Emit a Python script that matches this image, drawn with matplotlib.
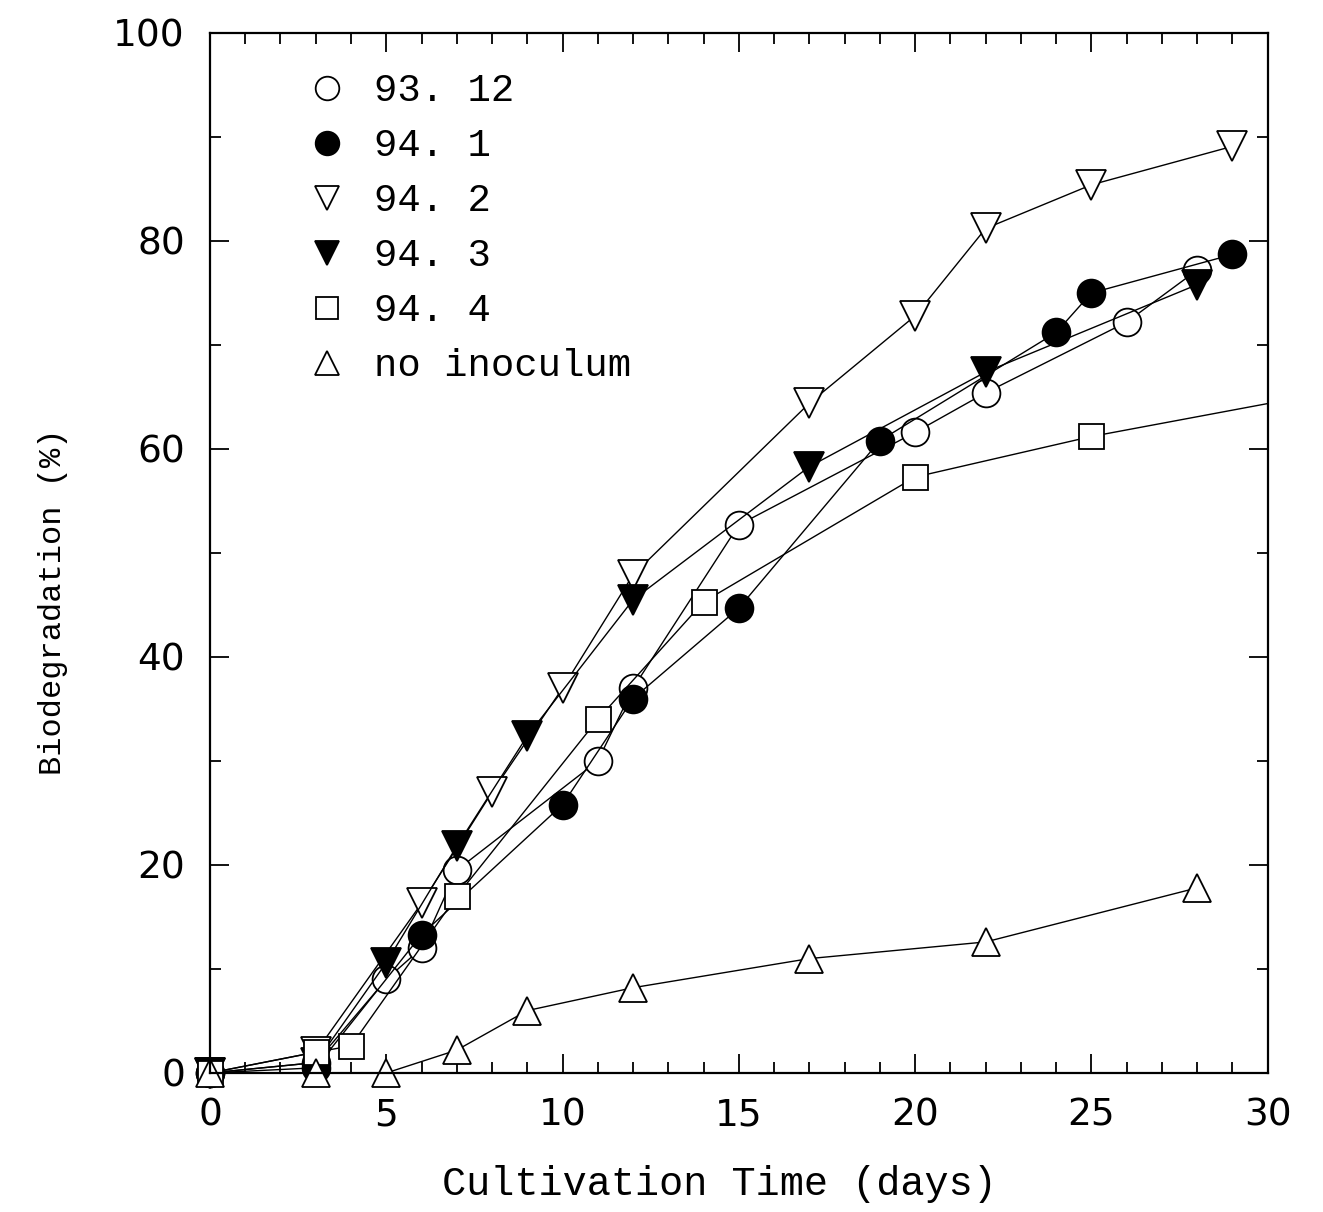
import numpy as np
import matplotlib
matplotlib.use('Agg')
import matplotlib.pyplot as plt
from matplotlib.ticker import MultipleLocator

# data
x_9312 = [0, 3, 5, 6, 7, 11, 12, 15, 20, 22, 26, 28]
y_9312 = [0, 1, 9, 12, 19.5, 30, 37, 52.7, 61.6, 65.4, 72.2, 77.2]

x_941 = [0, 3, 6, 10, 12, 15, 19, 24, 25, 29]
y_941 = [0, 0.5, 13.3, 25.8, 36, 44.7, 60.8, 71.2, 75, 78.7]

x_942 = [0, 3, 6, 8, 10, 12, 17, 20, 22, 25, 29]
y_942 = [0, 2, 16.3, 27, 37, 47.9, 64.4, 72.8, 81.2, 85.4, 89.1]

x_943 = [0, 3, 5, 7, 9, 12, 17, 22, 28]
y_943 = [0, 1, 10.6, 21.8, 32.4, 45.5, 58.3, 67.4, 75.8]

x_944 = [0, 3, 4, 7, 11, 14, 20, 25, 31]
y_944 = [0, 2, 2.6, 17, 34, 45.3, 57.3, 61.2, 65.0]

x_noin = [0, 3, 5, 7, 9, 12, 17, 22, 28]
y_noin = [0, 0, 0, 2.2, 6, 8.2, 11, 12.6, 17.8]

labels = ['93. 12', '94. 1', '94. 2', '94. 3', '94. 4', 'no inoculum']

fig = plt.figure(figsize=(13.23, 12.12), dpi=100)
ax = fig.add_axes([0.1587, 0.1147, 0.7995, 0.8581])

ms = 20
kw = dict(color='black', lw=1.0, clip_on=False, markeredgewidth=1.3)
ax.plot(x_9312, y_9312, marker='o', ms=ms, mfc='white', label=labels[0], **kw)
ax.plot(x_941, y_941, marker='o', ms=ms, mfc='black', label=labels[1], **kw)
ax.plot(x_942, y_942, marker='v', ms=ms + 1, mfc='white', label=labels[2], **kw)
ax.plot(x_943, y_943, marker='v', ms=ms + 1, mfc='black', label=labels[3], **kw)
ax.plot(x_944[:-1], y_944[:-1], marker='s', ms=ms - 2, mfc='white', label=labels[4], **kw)
ax.plot(x_944[-2:], y_944[-2:], color='black', lw=1.0, zorder=1)
ax.plot(x_noin, y_noin, marker='^', ms=ms, mfc='white', label=labels[5], **kw)

ax.set_xlim(0, 30)
ax.set_ylim(0, 100)
ax.xaxis.set_major_locator(MultipleLocator(5))
ax.xaxis.set_minor_locator(MultipleLocator(1))
ax.yaxis.set_major_locator(MultipleLocator(20))
ax.yaxis.set_minor_locator(MultipleLocator(10))
ax.tick_params(which='both', direction='in', top=True, right=True, width=1.3)
ax.tick_params(which='major', length=14, labelsize=27, pad=18)
ax.tick_params(which='minor', length=8)
for s in ax.spines.values():
    s.set_linewidth(1.6)

ax.set_xlabel('Cultivation Time (days)', family='Liberation Mono', fontsize=29)
ax.set_ylabel('Biodegradation (%)', family='Liberation Mono', fontsize=23)
ax.xaxis.set_label_coords(0.482, -0.088)
ax.yaxis.set_label_coords(-0.134, 0.453)

leg = ax.legend(loc='upper left', frameon=False,
                prop={'family': 'Liberation Mono', 'size': 28},
                handlelength=0.8, handletextpad=0.8, labelspacing=0.49,
                bbox_to_anchor=(0.063, 0.995), markerscale=0.85)
for h in leg.legend_handles:
    h.set_linestyle('none')

fig.savefig('out.png', dpi=100)
